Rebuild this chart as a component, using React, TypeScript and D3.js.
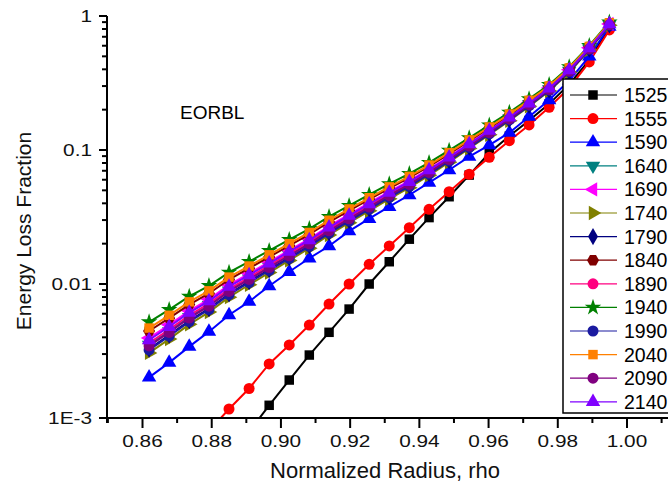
import React from "react";
import * as d3 from "d3";

const RHO = [0.8619, 0.8677, 0.8735, 0.8792, 0.885, 0.8908, 0.8966, 0.9024, 0.9082, 0.9139, 0.9197, 0.9255, 0.9313, 0.9371, 0.9428, 0.9486, 0.9544, 0.9602, 0.966, 0.9717, 0.9775, 0.9833, 0.9891, 0.9949];

const S1525 = [null, null, null, null, null, 0.00079, 0.001244, 0.00192, 0.00295, 0.00436, 0.0065, 0.01, 0.01466, 0.0216, 0.0313, 0.0448, 0.065, 0.095, 0.127, 0.166, 0.221, 0.309, 0.468, 0.822];
const S1555 = [null, null, null, 0.0008, 0.001167, 0.00166, 0.00253, 0.00351, 0.00494, 0.00709, 0.01, 0.01403, 0.01922, 0.02631, 0.03608, 0.04886, 0.06591, 0.08819, 0.1173, 0.1537, 0.2085, 0.29, 0.454, 0.787];
const S1590 = [0.00201, 0.00259, 0.00341, 0.00441, 0.00587, 0.00738, 0.00966, 0.01235, 0.01556, 0.01922, 0.02479, 0.0307, 0.03773, 0.04615, 0.05702, 0.07095, 0.08912, 0.1089, 0.1346, 0.1773, 0.236, 0.33, 0.5, 0.835];
const S1640 = [0.00351, 0.00443, 0.00566, 0.00694, 0.00892, 0.01095, 0.01342, 0.01644, 0.02015, 0.02519, 0.03094, 0.0378, 0.04616, 0.05574, 0.06848, 0.08548, 0.1077, 0.1357, 0.1714, 0.2189, 0.2835, 0.3899, 0.5705, 0.863];
const S1690 = [0.00395, 0.00496, 0.00631, 0.00769, 0.00984, 0.01197, 0.01462, 0.01783, 0.02176, 0.02706, 0.03305, 0.04026, 0.04888, 0.05884, 0.07196, 0.08946, 0.1122, 0.1408, 0.177, 0.2252, 0.2904, 0.3977, 0.5794, 0.873];
const S1740 = [0.00306, 0.00388, 0.005, 0.00617, 0.00798, 0.00987, 0.01216, 0.015, 0.01849, 0.02323, 0.0287, 0.03519, 0.04318, 0.05238, 0.06472, 0.08116, 0.1028, 0.13, 0.1652, 0.2118, 0.2757, 0.3808, 0.5601, 0.852];
const S1790 = [0.00327, 0.00415, 0.00532, 0.00654, 0.00844, 0.0104, 0.01278, 0.01571, 0.0193, 0.02419, 0.02977, 0.0365, 0.04462, 0.05406, 0.06663, 0.08328, 0.1052, 0.1328, 0.1682, 0.2151, 0.2797, 0.3851, 0.5653, 0.858];
const S1840 = [0.00446, 0.00556, 0.00702, 0.0085, 0.0108, 0.01311, 0.01591, 0.01932, 0.02345, 0.02901, 0.03532, 0.04282, 0.05178, 0.06211, 0.07557, 0.0937, 0.1169, 0.1461, 0.1829, 0.2319, 0.2973, 0.4061, 0.5883, 0.885];
const S1890 = [0.00363, 0.00457, 0.00584, 0.00714, 0.00917, 0.01123, 0.01375, 0.01683, 0.0206, 0.0257, 0.03152, 0.03847, 0.04693, 0.05661, 0.06947, 0.08663, 0.109, 0.1371, 0.1729, 0.2207, 0.2855, 0.3918, 0.5728, 0.867];
const S1940 = [0.0052, 0.00644, 0.00807, 0.0097, 0.01222, 0.0147, 0.01775, 0.02143, 0.02583, 0.03179, 0.03843, 0.04642, 0.05577, 0.06657, 0.08054, 0.09926, 0.1232, 0.1532, 0.1907, 0.2406, 0.3069, 0.4168, 0.6004, 0.898];
const S1990 = [0.00322, 0.00408, 0.00524, 0.00645, 0.00833, 0.01026, 0.01262, 0.01552, 0.01911, 0.02395, 0.02951, 0.03618, 0.04428, 0.05365, 0.06613, 0.08275, 0.1046, 0.1321, 0.1675, 0.2145, 0.2786, 0.3839, 0.5641, 0.856];
const S2040 = [0.00469, 0.00584, 0.00736, 0.00889, 0.01126, 0.01362, 0.01651, 0.02, 0.02424, 0.02991, 0.03632, 0.04401, 0.05308, 0.06356, 0.0772, 0.09546, 0.119, 0.1485, 0.1854, 0.2348, 0.3005, 0.4096, 0.5924, 0.889];
const S2090 = [0.00345, 0.00435, 0.00557, 0.00683, 0.0088, 0.01081, 0.01325, 0.01625, 0.01994, 0.02493, 0.03065, 0.03748, 0.04577, 0.05533, 0.06805, 0.08495, 0.1071, 0.135, 0.1705, 0.218, 0.2826, 0.3887, 0.5693, 0.862];
const S2140 = [0.00382, 0.0048, 0.00611, 0.00746, 0.00955, 0.01167, 0.01426, 0.01742, 0.02128, 0.02649, 0.03243, 0.03954, 0.04808, 0.05794, 0.07096, 0.08831, 0.1109, 0.1393, 0.1754, 0.2234, 0.2884, 0.3954, 0.5768, 0.871];

const SERIES_NAMES = ["1525", "1555", "1590", "1640", "1690", "1740", "1790", "1840", "1890", "1940", "1990", "2040", "2090", "2140"];
const SERIES_VALUES = [S1525, S1555, S1590, S1640, S1690, S1740, S1790, S1840, S1890, S1940, S1990, S2040, S2090, S2140];
const SERIES_COLORS = ["#000000", "#FF0000", "#0000FF", "#008080", "#FF00FF", "#808000", "#000080", "#800000", "#FF0080", "#008000", "#1a1aa0", "#FF8000", "#800080", "#8000FF"];
const SERIES_MARKERS = ["square", "circle", "up", "down", "left", "right", "diamond", "hexagon", "circle", "star", "circle", "square", "circle", "up"];

const X_MAJOR = [0.86, 0.88, 0.9, 0.92, 0.94, 0.96, 0.98, 1.0];
const X_MINOR = [0.85, 0.87, 0.89, 0.91, 0.93, 0.95, 0.97, 0.99, 1.01];
const Y_MAJOR = [0.001, 0.01, 0.1, 1];
const Y_LABELS = ["1E-3", "0.01", "0.1", "1"];

const W = 668;
const H = 488;
const FONT = "'Liberation Sans', Arial, sans-serif";

const x = d3.scaleLinear().domain([0.85, 1.0]).range([107.9, 627]);
const y = d3.scaleLog().domain([0.001, 1]).range([418, 16]);

function markerPath(kind: string): { d: string; rot: number } {
  switch (kind) {
    case "square":
      return { d: d3.symbol().type(d3.symbolSquare).size(90)()!, rot: 0 };
    case "circle":
      return { d: d3.symbol().type(d3.symbolCircle).size(95)()!, rot: 0 };
    case "up":
      return { d: d3.symbol().type(d3.symbolTriangle).size(90)()!, rot: 0 };
    case "down":
      return { d: d3.symbol().type(d3.symbolTriangle).size(90)()!, rot: 180 };
    case "left":
      return { d: d3.symbol().type(d3.symbolTriangle).size(90)()!, rot: -90 };
    case "right":
      return { d: d3.symbol().type(d3.symbolTriangle).size(90)()!, rot: 90 };
    case "diamond":
      return { d: d3.symbol().type(d3.symbolDiamond).size(85)()!, rot: 0 };
    case "star":
      return { d: d3.symbol().type(d3.symbolStar).size(85)()!, rot: 0 };
    case "hexagon": {
      const r = 6;
      const pts = d3.range(6).map((i) => {
        const a = (Math.PI / 3) * i;
        return [r * Math.cos(a), r * Math.sin(a)];
      });
      return { d: "M" + pts.map((p) => p.join(",")).join("L") + "Z", rot: 0 };
    }
  }
  return { d: "", rot: 0 };
}

export default function App() {
  const line = d3
    .line<[number, number | null]>()
    .defined((d) => d[1] !== null)
    .x((d) => x(d[0]))
    .y((d) => y(d[1] as number));

  const yMinor: number[] = [];
  [0.001, 0.01, 0.1].forEach((dec) => {
    for (let k = 2; k <= 9; k++) yMinor.push(dec * k);
  });

  const legendX = 563;
  const legendY = 79;
  const rowH = 23.6;

  return (
    <svg width={W} height={H} style={{ position: "absolute", left: 0, top: 0, background: "#fff" }} fontFamily={FONT}>
      <defs>
        <clipPath id="plotclip">
          <rect x={108} y={0} width={W - 108} height={418} />
        </clipPath>
      </defs>
      <rect x={0} y={0} width={W} height={H} fill="#fff" />

      <g clipPath="url(#plotclip)">
        {SERIES_VALUES.map((vals, si) => {
          const pts: [number, number | null][] = RHO.map((r, i) => [r, vals[i]]);
          const m = markerPath(SERIES_MARKERS[si]);
          return (
            <g key={SERIES_NAMES[si]}>
              <path d={line(pts) || ""} fill="none" stroke={SERIES_COLORS[si]} strokeWidth={2} />
              {pts
                .filter((p) => p[1] !== null)
                .map((p, i) => (
                  <path
                    key={i}
                    d={m.d}
                    transform={`translate(${x(p[0])},${y(p[1] as number)}) rotate(${m.rot})`}
                    fill={SERIES_COLORS[si]}
                  />
                ))}
            </g>
          );
        })}
      </g>

      {/* Y axis */}
      <line x1={107} x2={107} y1={16} y2={423} stroke="#000" strokeWidth={2} />
      {Y_MAJOR.map((v, i) => (
        <g key={"ym" + i}>
          <line x1={99} x2={107} y1={y(v)} y2={y(v)} stroke="#000" strokeWidth={2} />
          <text
            transform={`translate(92,${y(v) + 5.5}) scale(1.3,1)`}
            textAnchor="end"
            fontSize={16}
            fill="#111"
          >
            {Y_LABELS[i]}
          </text>
        </g>
      ))}
      {yMinor.map((v, i) => (
        <line key={"yn" + i} x1={102} x2={107} y1={y(v)} y2={y(v)} stroke="#000" strokeWidth={2} />
      ))}

      {/* X axis */}
      <line x1={106} x2={W} y1={418} y2={418} stroke="#000" strokeWidth={2} />
      {X_MAJOR.map((v, i) => (
        <g key={"xm" + i}>
          <line x1={x(v)} x2={x(v)} y1={418} y2={428} stroke="#000" strokeWidth={2} />
          <text transform={`translate(${x(v)},447) scale(1.3,1)`} textAnchor="middle" fontSize={16} fill="#111">
            {v.toFixed(2)}
          </text>
        </g>
      ))}
      {X_MINOR.map((v, i) => (
        <line key={"xn" + i} x1={x(v)} x2={x(v)} y1={418} y2={423} stroke="#000" strokeWidth={2} />
      ))}

      {/* Axis titles */}
      <text x={385} y={478} textAnchor="middle" fontSize={22} fill="#111">
        Normalized Radius, rho
      </text>
      <text transform="translate(31,231) rotate(-90)" textAnchor="middle" fontSize={21} fill="#111">
        Energy Loss Fraction
      </text>

      <text x={180} y={119} fontSize={19} fill="#000">
        EORBL
      </text>

      {/* Legend */}
      <rect x={legendX} y={legendY} width={130} height={334} fill="#fff" stroke="#000" strokeWidth={1.5} />
      {SERIES_NAMES.map((name, si) => {
        const cy = 95 + si * rowH;
        const m = markerPath(SERIES_MARKERS[si]);
        return (
          <g key={"lg" + name}>
            <line x1={570} x2={617} y1={cy} y2={cy} stroke={SERIES_COLORS[si]} strokeWidth={1.2} />
            <path d={m.d} transform={`translate(593,${cy}) rotate(${m.rot})`} fill={SERIES_COLORS[si]} />
            <text x={624} y={cy + 7} fontSize={19.5} fill="#000">
              {name}
            </text>
          </g>
        );
      })}
    </svg>
  );
}
